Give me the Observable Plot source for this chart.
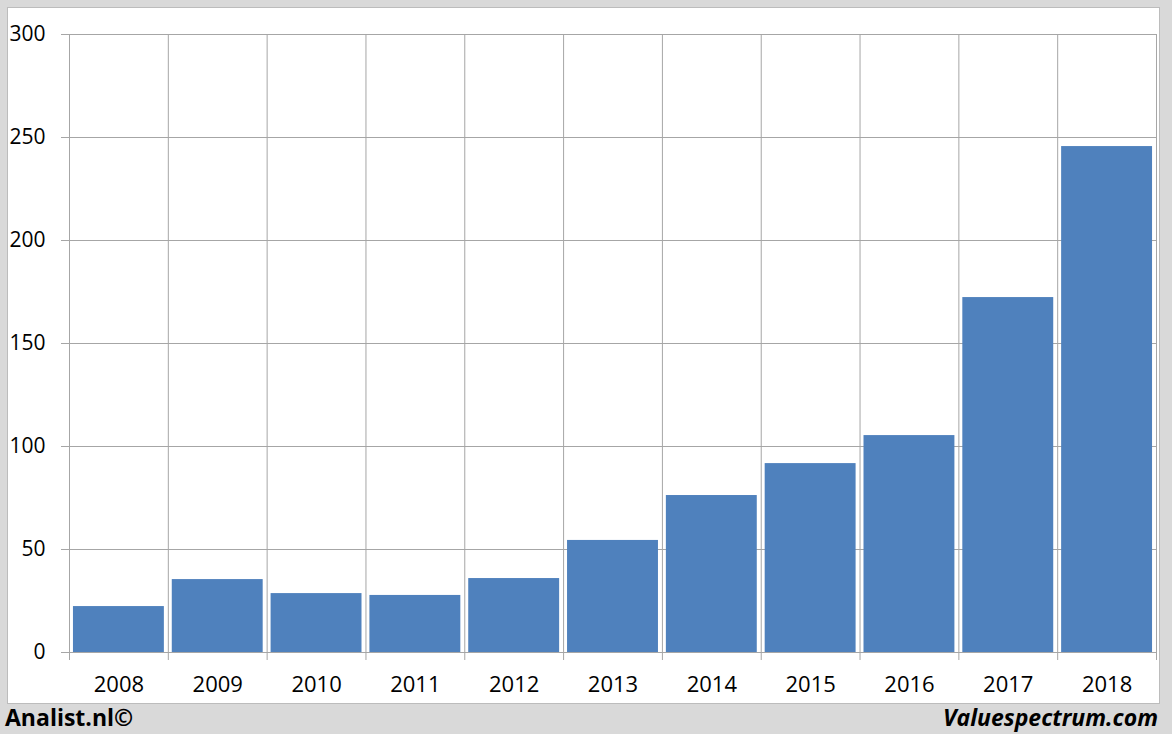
<!DOCTYPE html>
<html>
<head>
<meta charset="utf-8">
<script src="https://cdn.jsdelivr.net/npm/d3@7"></script>
<script src="https://cdn.jsdelivr.net/npm/@observablehq/plot@0.6"></script>
<style>
  html, body { margin: 0; padding: 0; background: #d9d9d9; }
  #wrap { position: relative; width: 1172px; height: 734px; background: #d9d9d9; overflow: hidden; font-family: "Open Sans", sans-serif; }
  #panel { position: absolute; left: 7px; top: 7px; width: 1151px; height: 695px; background: #fff; border: 1px solid #bcbcbc; }
  #chart { position: absolute; left: 0; top: 0; }
  .foot { position: absolute; top: 702px; font-size: 23px; font-weight: 700; color: #000; line-height: 30px; }
  #left { left: 5px; }
  #right { right: 14px; font-style: italic; }
</style>
</head>
<body>
<div id="wrap">
  <div id="panel"></div>
  <div id="chart"></div>
  <div class="foot" id="left">Analist.nl©</div>
  <div class="foot" id="right">Valuespectrum.com</div>
</div>
<script>
const years = ["2008","2009","2010","2011","2012","2013","2014","2015","2016","2017","2018"];
const values = [22.3, 35.4, 28.6, 27.7, 35.9, 54.4, 76.2, 91.7, 105.3, 172.3, 245.6];
const yTicks = [0, 50, 100, 150, 200, 250, 300];

const data = years.map((year, i) => ({year, index: i, value: values[i]}));
const boundaries = d3.range(0, years.length + 1);
const centers = years.map((_, i) => i + 0.5);

const W = 1172, H = 703;
const mL = 69, mR = 16, mT = 34, mB = 51;
const gridColor = "#a6a6a6";
const gap = 0.04;

const chart = Plot.plot({
  width: W,
  height: H,
  marginLeft: mL,
  marginRight: mR,
  marginTop: mT,
  marginBottom: mB,
  style: { background: "transparent", fontFamily: "'Open Sans', sans-serif", fontSize: "22px", color: "#000", overflow: "visible" },
  x: { type: "linear", domain: [0, years.length], axis: null },
  y: { domain: [0, 300], axis: null },
  marks: [
    Plot.ruleY(yTicks, { stroke: gridColor, strokeWidth: 1, insetLeft: -8 }),
    Plot.ruleX(boundaries, { x: d => d, y1: 0, y2: 300, stroke: gridColor }),
    Plot.rectY(data, { x1: d => d.index + gap, x2: d => d.index + 1 - gap, y1: 0, y2: "value", fill: "#4F81BD" }),
    Plot.ruleY([0], { stroke: gridColor, insetLeft: -8 }),
    Plot.axisX({ ticks: boundaries, tickFormat: () => "", tickSize: 8, stroke: gridColor, label: null }),
    Plot.axisY({ ticks: yTicks, tickSize: 0, tickPadding: 24, fontSize: 21, fill: "#000", label: null }),
    Plot.axisX({ ticks: centers, tickFormat: v => years[Math.floor(v)], tickSize: 0, tickPadding: 24, fontSize: 22, fill: "#000", label: null })
  ]
});
document.getElementById("chart").appendChild(chart);
</script>
</body>
</html>
